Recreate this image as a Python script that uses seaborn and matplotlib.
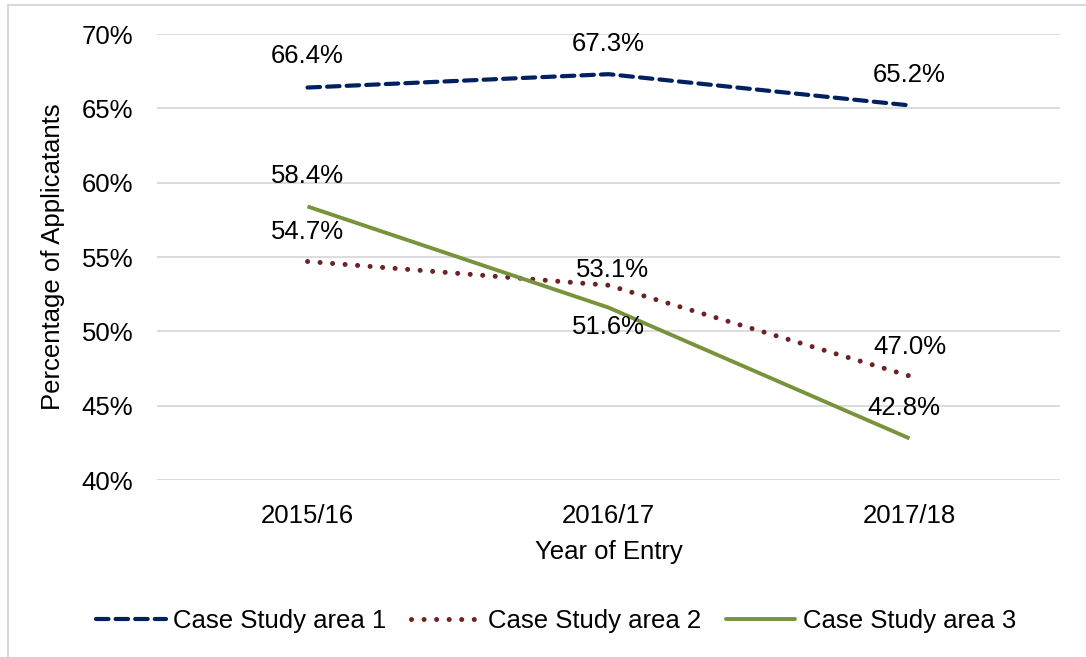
import pandas as pd
import matplotlib.pyplot as plt
import matplotlib.lines as mlines
from matplotlib.ticker import PercentFormatter
import seaborn as sns

# Data
years = ["2015/16", "2016/17", "2017/18"]
area1 = [66.4, 67.3, 65.2]
area2 = [54.7, 53.1, 47.0]
area3 = [58.4, 51.6, 42.8]
series_names = ["Case Study area 1", "Case Study area 2", "Case Study area 3"]

data = pd.DataFrame({
    "Year": years * 3,
    "Value": area1 + area2 + area3,
    "Series": [s for s in series_names for _ in years],
})

# Style
sns.set_theme(style="white")
plt.rcParams["font.family"] = ["Liberation Sans", "DejaVu Sans"]
plt.rcParams["text.color"] = "black"
plt.rcParams["axes.labelcolor"] = "black"

colors = {"Case Study area 1": "#002060",
          "Case Study area 2": "#6B2326",
          "Case Study area 3": "#77933C"}
dashes = {"Case Study area 1": (3.0, 1.7),
          "Case Study area 2": (0.01, 2.5),
          "Case Study area 3": ""}
widths = {"Case Study area 1": 3.0,
          "Case Study area 2": 3.6,
          "Case Study area 3": 2.8}

fig = plt.figure(figsize=(10.86, 6.57), dpi=100)
ax = fig.add_axes([0.1446, 0.2694, 0.8314, 0.6788])

sns.lineplot(data=data, x="Year", y="Value", hue="Series", style="Series",
             palette=colors, dashes=dashes, linewidth=3.0, ax=ax,
             legend=False, sort=False)
for line, name in zip(ax.lines, series_names):
    line.set_linewidth(widths[name])
    line.set_dash_capstyle("round")
    line.set_solid_capstyle("butt")

ax.set_xlim(-0.5, 2.5)
ax.set_ylim(40, 70)
ax.set_yticks(range(40, 71, 5))
ax.yaxis.set_major_formatter(PercentFormatter(decimals=0))
ax.grid(axis="y", color="#D9D9D9", linewidth=1.3)
ax.grid(axis="x", visible=False)
for sp in ax.spines.values():
    sp.set_visible(False)
ax.tick_params(axis="both", length=0, labelsize=18.5, colors="black")
ax.tick_params(axis="y", pad=17)
ax.tick_params(axis="x", pad=17)
ax.set_xlabel("Year of Entry", fontsize=18.5, labelpad=9)
ax.set_ylabel("Percentage of Applicatants", fontsize=18.5, labelpad=12)

# Data labels (offsets in points)
label_offsets = {
    "Case Study area 1": [(0, 23), (0, 22), (0, 22)],
    "Case Study area 2": [(0, 21), (3, 11), (0, 21)],
    "Case Study area 3": [(0, 22), (0, -14), (-4, 22)],
}
for name, vals in zip(series_names, [area1, area2, area3]):
    for i, v in enumerate(vals):
        ax.annotate(f"{v:.1f}%", (i, v), xytext=label_offsets[name][i],
                    textcoords="offset points", ha="center", va="center",
                    fontsize=18.5, color="black")

# Legend
handles = []
for n in series_names:
    h = mlines.Line2D([], [], color=colors[n], linewidth=widths[n], label=n)
    if dashes[n]:
        h.set_dashes(dashes[n])
        h.set_dash_capstyle("round")
    handles.append(h)
fig.legend(handles=handles, loc="center", bbox_to_anchor=(0.512, 0.055),
           ncol=3, frameon=False, fontsize=18.5, handlelength=2.7,
           columnspacing=0.95, handletextpad=0.3, labelcolor="black")

# Light outer border
fig.add_artist(mlines.Line2D([0.0074, 0.0074], [0, 0.992], color="#D9D9D9",
                             linewidth=1.5, transform=fig.transFigure))
fig.add_artist(mlines.Line2D([0.0074, 1.0], [0.992, 0.992], color="#D9D9D9",
                             linewidth=1.5, transform=fig.transFigure))

fig.savefig("out.png", dpi=100)
